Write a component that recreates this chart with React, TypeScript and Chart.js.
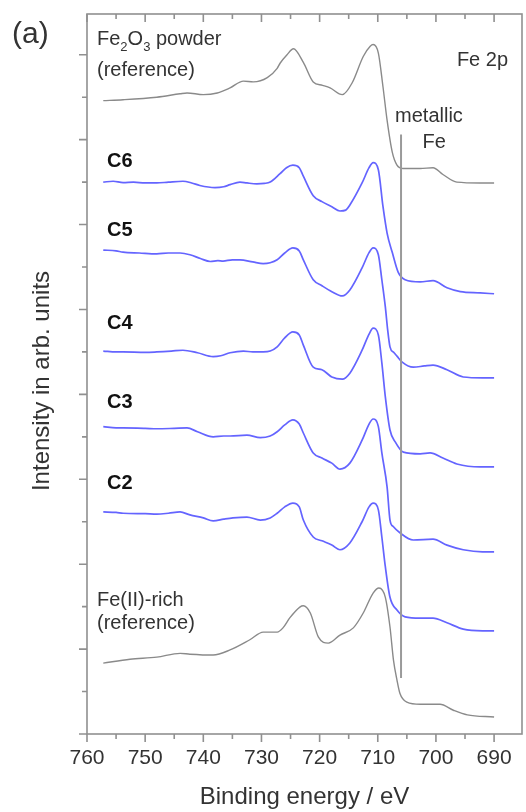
import React, { useEffect, useRef } from "react";
import { Chart, registerables } from "chart.js";
Chart.register(...registerables);

const FONT = "'Liberation Sans', Arial, Helvetica, sans-serif";

// Axis ticks
const energyTicks = [760, 750, 740, 730, 720, 710, 700, 690];
const energyMinorTicks = [755, 745, 735, 725, 715, 705, 695];
const intensityTicks = [0, 1, 2, 3, 4, 5, 6, 7, 8];
const intensityMinorTicks = [0.5, 1.5, 2.5, 3.5, 4.5, 5.5, 6.5, 7.5];
const X_MIN = 685.2;
const X_MAX = 760;
const Y_MIN = 0;
const Y_MAX = 8.48;

// Fe2O3 powder (reference)
const fe2o3E = [757.2, 753.8, 748, 744, 742.8, 740, 737.6, 735.4, 733.1, 731.4, 729, 727.3, 726.8, 725.6, 724.5, 722.8, 721.1, 719.5, 718.2, 716.1, 714.4, 712.5, 711.3, 710.8, 709.9, 709.1, 708.4, 707.5, 706.7, 705.6, 702.7, 700.5, 698.8, 696.4, 692.4, 690];
const fe2o3I = [7.46, 7.47, 7.5, 7.54, 7.55, 7.53, 7.55, 7.61, 7.69, 7.68, 7.73, 7.84, 7.9, 8.0, 8.07, 7.91, 7.68, 7.64, 7.61, 7.53, 7.67, 7.98, 8.1, 8.12, 8.02, 7.62, 7.23, 6.85, 6.7, 6.66, 6.66, 6.67, 6.59, 6.5, 6.49, 6.49];

// C6
const c6E = [757.2, 755.5, 753.8, 752, 750, 748, 746, 743.5, 742, 740.6, 738, 736.5, 735.4, 733.7, 732.5, 730.8, 729.5, 728.5, 726.8, 725.7, 724.6, 723.5, 722.8, 721.1, 719.6, 717.9, 716.5, 715.5, 714.8, 712.7, 711.5, 710.8, 709.9, 709.1, 708.4, 707.5, 706.5, 705.3, 702.7, 700.5, 698.1, 695.8, 692.4, 690];
const c6I = [6.5, 6.51, 6.495, 6.5, 6.49, 6.49, 6.5, 6.51, 6.49, 6.46, 6.435, 6.445, 6.47, 6.5, 6.49, 6.48, 6.485, 6.5, 6.6, 6.67, 6.7, 6.67, 6.57, 6.34, 6.27, 6.21, 6.16, 6.17, 6.23, 6.49, 6.67, 6.73, 6.645, 6.21, 5.9, 5.67, 5.44, 5.35, 5.325, 5.34, 5.255, 5.21, 5.195, 5.185];

// C5
const c5E = [757.2, 755, 753.8, 751, 748, 746, 744, 742.3, 740.5, 738.8, 737.5, 736.6, 735, 733.7, 731.5, 729.7, 728.5, 727.3, 726, 724.6, 723.5, 722.8, 721.1, 719.6, 717.9, 716.1, 714.8, 712.7, 711.5, 710.8, 709.9, 709.3, 708.7, 708.3, 707.9, 707.2, 706.7, 705.8, 703.9, 702, 700.5, 698.1, 695.3, 692, 690];
const c5I = [5.7, 5.69, 5.675, 5.665, 5.655, 5.665, 5.665, 5.645, 5.6, 5.565, 5.575, 5.57, 5.585, 5.585, 5.56, 5.54, 5.55, 5.585, 5.665, 5.725, 5.69, 5.585, 5.35, 5.28, 5.21, 5.16, 5.23, 5.49, 5.67, 5.725, 5.645, 5.35, 5.03, 4.76, 4.56, 4.49, 4.45, 4.38, 4.32, 4.335, 4.345, 4.29, 4.205, 4.195, 4.195];

// C4
const c4E = [757.2, 755, 753.8, 750, 748, 745.5, 743.5, 741, 738.3, 737, 735.4, 733.1, 731.5, 729.7, 728.5, 727.3, 726, 724.6, 723.5, 722.8, 721.1, 719.6, 717.9, 716.1, 714.8, 712.7, 711.5, 710.8, 709.9, 709.3, 708.7, 707.9, 707, 705.6, 702.7, 701, 698.8, 696.4, 692.4, 690];
const c4I = [4.51, 4.5, 4.5, 4.495, 4.5, 4.51, 4.52, 4.49, 4.445, 4.455, 4.49, 4.51, 4.5, 4.5, 4.51, 4.56, 4.665, 4.735, 4.7, 4.58, 4.32, 4.29, 4.205, 4.18, 4.25, 4.52, 4.71, 4.78, 4.7, 4.37, 3.97, 3.58, 3.44, 3.32, 3.3, 3.31, 3.25, 3.18, 3.145, 3.145];

// C3
const c3E = [757.2, 755, 753.8, 750, 748, 745, 742.8, 741, 738.3, 736.5, 735.4, 732.5, 730.2, 728.5, 727.3, 726, 724.6, 723.5, 722.8, 721.1, 719.6, 717.9, 716.5, 714.8, 712.7, 711.5, 710.8, 709.9, 709.3, 708.4, 707.9, 707.3, 706.2, 703.9, 700.5, 698.1, 695.3, 692, 690];
const c3I = [3.62, 3.605, 3.605, 3.6, 3.595, 3.6, 3.605, 3.56, 3.5, 3.51, 3.51, 3.52, 3.49, 3.51, 3.56, 3.64, 3.7, 3.65, 3.545, 3.31, 3.25, 3.19, 3.12, 3.19, 3.46, 3.65, 3.71, 3.62, 3.31, 2.91, 2.52, 2.44, 2.37, 2.285, 2.295, 2.225, 2.17, 2.145, 2.145];

// C2
const c2E = [757.2, 755, 753.8, 750, 748, 746, 744, 742.3, 740, 738.3, 736.5, 734.9, 732.5, 730.2, 728.5, 727.3, 726, 724.6, 723.5, 722.8, 721.1, 719.6, 717.9, 716.5, 714.8, 712.7, 711.5, 710.8, 709.9, 709.3, 708.7, 707.9, 706.7, 705.3, 702.7, 700.5, 698.1, 695.3, 692, 690];
const c2I = [2.615, 2.61, 2.6, 2.595, 2.59, 2.6, 2.615, 2.58, 2.545, 2.51, 2.53, 2.545, 2.555, 2.52, 2.545, 2.6, 2.675, 2.72, 2.675, 2.52, 2.32, 2.275, 2.225, 2.17, 2.25, 2.5, 2.675, 2.72, 2.64, 2.32, 1.97, 1.61, 1.46, 1.38, 1.365, 1.365, 1.31, 1.235, 1.215, 1.215];

// Fe(II)-rich (reference)
const fe2E = [757.2, 752.6, 748, 744, 742.3, 738.3, 735.4, 732, 729.7, 727.3, 726.3, 725.1, 723.4, 722.8, 721.6, 720.2, 718.5, 716.5, 714.2, 712.5, 710.8, 709.8, 708.7, 707.9, 707.3, 706.7, 706.2, 705, 702.7, 699.3, 697, 694.6, 690];
const fe2I = [0.835, 0.88, 0.905, 0.95, 0.94, 0.93, 0.99, 1.11, 1.2, 1.2, 1.25, 1.37, 1.495, 1.51, 1.425, 1.14, 1.07, 1.165, 1.25, 1.425, 1.66, 1.72, 1.61, 1.26, 0.87, 0.635, 0.48, 0.375, 0.35, 0.35, 0.28, 0.225, 0.2];

// metallic Fe marker line
const metalE = [706, 706];
const metalI = [7.06, 0.66];

// Sample labels: [text, energy, intensity]
const sampleLabels: [string, number, number][] = [
  ["C6", 756.56, 6.74],
  ["C5", 756.56, 5.93],
  ["C4", 756.56, 4.83],
  ["C3", 756.56, 3.91],
  ["C2", 756.56, 2.945],
];

const GRAY = "#8a8a8a";
const BLUE = "#6464ff";
const AXIS = "#909090";
const TEXT = "#333333";

export default function App() {
  const ref = useRef<HTMLCanvasElement>(null);

  useEffect(() => {
    document.body.style.margin = "0";
    const canvas = ref.current;
    if (!canvas) return;

    const zip = (xs: number[], ys: number[]) => xs.map((x, i) => ({ x, y: ys[i] }));
    const ds = (label: string, xs: number[], ys: number[], color: string, width: number) => ({
      label,
      data: zip(xs, ys),
      borderColor: color,
      backgroundColor: color,
      borderWidth: width,
      pointRadius: 0,
      cubicInterpolationMode: "monotone" as const,
      fill: false,
    });

    const framePlugin = {
      id: "frame",
      afterDatasetsDraw(chart: any) {
        const { ctx, chartArea, scales } = chart;
        const xs = scales.x;
        const ys = scales.y;
        const { left, right, top, bottom } = chartArea;
        ctx.save();
        ctx.strokeStyle = AXIS;
        ctx.lineWidth = 1.6;
        ctx.strokeRect(left, top, right - left, bottom - top);
        ctx.beginPath();
        energyTicks.forEach((v) => {
          const px = xs.getPixelForValue(v);
          ctx.moveTo(px, bottom);
          ctx.lineTo(px, bottom + 8);
          ctx.moveTo(px, top);
          ctx.lineTo(px, top + 8);
        });
        energyMinorTicks.forEach((v) => {
          const px = xs.getPixelForValue(v);
          ctx.moveTo(px, bottom);
          ctx.lineTo(px, bottom + 5);
          ctx.moveTo(px, top);
          ctx.lineTo(px, top + 5);
        });
        intensityTicks.forEach((v) => {
          const py = ys.getPixelForValue(v);
          ctx.moveTo(left, py);
          ctx.lineTo(left - 8, py);
        });
        intensityMinorTicks.forEach((v) => {
          const py = ys.getPixelForValue(v);
          ctx.moveTo(left, py);
          ctx.lineTo(left - 5, py);
        });
        ctx.stroke();

        ctx.fillStyle = TEXT;
        ctx.font = `24px ${FONT}`;
        ctx.textAlign = "center";
        ctx.textBaseline = "middle";
        ctx.save();
        ctx.translate(42, 381);
        ctx.rotate(-Math.PI / 2);
        ctx.fillText("Intensity in arb. units", 0, 0);
        ctx.restore();

        ctx.textAlign = "left";
        ctx.font = `30px ${FONT}`;
        ctx.fillText("(a)", 12, 35);

        let x = xs.getPixelForValue(758.28);
        const y1 = ys.getPixelForValue(8.18);
        const parts: [string, boolean][] = [["Fe", false], ["2", true], ["O", false], ["3", true], [" powder", false]];
        parts.forEach(([t, sub]) => {
          ctx.font = sub ? `13px ${FONT}` : `20px ${FONT}`;
          ctx.fillText(t, x, sub ? y1 + 8 : y1);
          x += ctx.measureText(t).width;
        });
        ctx.font = `20px ${FONT}`;
        ctx.fillText("(reference)", xs.getPixelForValue(758.28), ys.getPixelForValue(7.81));

        ctx.fillText("Fe(II)-rich", xs.getPixelForValue(758.28), ys.getPixelForValue(1.578));
        ctx.fillText("(reference)", xs.getPixelForValue(758.28), ys.getPixelForValue(1.307));

        ctx.textAlign = "right";
        ctx.fillText("Fe 2p", xs.getPixelForValue(687.6), ys.getPixelForValue(7.93));

        ctx.textAlign = "center";
        ctx.fillText("metallic", xs.getPixelForValue(701.2), ys.getPixelForValue(7.27));
        ctx.fillText("Fe", xs.getPixelForValue(700.3), ys.getPixelForValue(6.97));

        ctx.textAlign = "left";
        ctx.fillStyle = "#111111";
        ctx.font = `bold 20px ${FONT}`;
        sampleLabels.forEach(([t, e, v]) => {
          ctx.fillText(t, xs.getPixelForValue(e), ys.getPixelForValue(v));
        });
        ctx.restore();
      },
    };

    const chart = new Chart(canvas, {
      type: "line",
      data: {
        datasets: [
          ds("metallic Fe", metalE, metalI, "#9a9a9a", 2),
          ds("Fe2O3 powder", fe2o3E, fe2o3I, GRAY, 1.4),
          ds("C6", c6E, c6I, BLUE, 1.7),
          ds("C5", c5E, c5I, BLUE, 1.7),
          ds("C4", c4E, c4I, BLUE, 1.7),
          ds("C3", c3E, c3I, BLUE, 1.7),
          ds("C2", c2E, c2I, BLUE, 1.7),
          ds("Fe(II)-rich", fe2E, fe2I, GRAY, 1.4),
        ] as any,
      },
      options: {
        animation: false,
        responsive: false,
        events: [],
        layout: { padding: { left: 87, top: 14, right: 4, bottom: 0 } },
        plugins: { legend: { display: false }, tooltip: { enabled: false } },
        scales: {
          x: {
            type: "linear",
            reverse: true,
            min: X_MIN,
            max: X_MAX,
            grid: { display: false, drawTicks: false },
            border: { display: false },
            afterBuildTicks: (s: any) => {
              s.ticks = energyTicks.map((v) => ({ value: v }));
            },
            ticks: {
              font: { family: FONT, size: 21 },
              color: TEXT,
              padding: 11.4,
              autoSkip: false,
              maxRotation: 0,
            },
            title: {
              display: true,
              text: "Binding energy / eV",
              font: { family: FONT, size: 24 },
              color: TEXT,
              padding: { top: 0.6, bottom: 0.6 },
            },
          },
          y: { type: "linear", display: false, min: Y_MIN, max: Y_MAX },
        },
      } as any,
      plugins: [framePlugin],
    });
    return () => chart.destroy();
  }, []);

  return (
    <div style={{ width: 526, height: 812 }}>
      <canvas ref={ref} width={526} height={812} style={{ display: "block" }} />
    </div>
  );
}
